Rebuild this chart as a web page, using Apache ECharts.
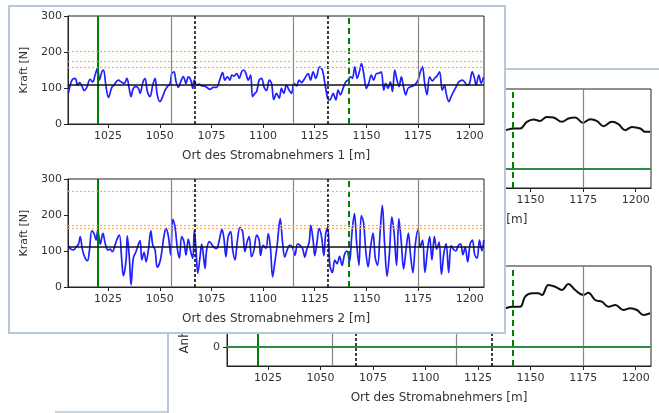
<!DOCTYPE html>
<html>
<head>
<meta charset="utf-8">
<script src="https://cdn.jsdelivr.net/npm/echarts@6/dist/echarts.min.js"></script>
<style>
  html, body { margin: 0; padding: 0; background: #fff; width: 659px; height: 413px; overflow: hidden; }
  .win { position: absolute; background: #fff; overflow: hidden; box-sizing: border-box; }
  #backWin { left: 167px; top: 68px; width: 520px; height: 380px; border-left: 2px solid #b8c7d6; border-top: 2px solid #b8c7d6; }
  #frontWin { left: 8px; top: 5px; width: 498px; height: 329px; border: 2px solid #b8c7d6; }
  #thirdWin { position: absolute; left: 55px; top: 411px; width: 112px; height: 2px; background: #c9d1da; }
  .chart { position: absolute; width: 659px; height: 413px; }
  #backChart { left: -169px; top: -70px; }
  #frontChart { left: -10px; top: -7px; }
</style>
</head>
<body>
<div id="thirdWin"></div>
<div class="win" id="backWin"><div class="chart" id="backChart"></div></div>
<div class="win" id="frontWin"><div class="chart" id="frontChart"></div></div>
<script>
// ---- track section ----
const xMinFront = 1005.6, xMaxFront = 1206.9;
const xMinBack = 1005.5, xMaxBack = 1207.3;
const xTickValues = [1025, 1050, 1075, 1100, 1125, 1150, 1175, 1200];
const forceTicks = [0, 100, 200, 300];

// markers along the track [m]
const greenSolidPos = 1020;
const grayMastPos = [1055.5, 1114.5, 1175];
const blackDashedPos = [1067, 1131.5];
const greenDashedPos = 1141.5;

// horizontal reference levels [N]
const meanForce1 = 108;
const limits1 = [203, 173, 159];
const meanForce2 = 112;
const limits2 = [267, 172, 164];

// contact force, pantograph 1
const pos1 = [1005.8,1007.5,1009.1,1010.2,1011.2,1012.3,1013.4,1014.7,1016.3,1017.6,1018.7,1019.9,1020.8,1022,1022.8,1023.9,1025.2,1026.8,1027.9,1028.9,1030,1031.3,1032.8,1034.1,1035.2,1036.1,1037.2,1038.5,1039.7,1040.5,1041.8,1042.9,1044,1045.3,1046.6,1047.7,1048.8,1050.1,1051.4,1052.6,1053.7,1055,1055.8,1056.9,1057.9,1059,1060.1,1061.4,1062.7,1063.8,1065,1066,1066.7,1067.9,1069.1,1070.3,1071.4,1072.7,1074.3,1075.9,1077.5,1079.1,1080.4,1081.5,1082.7,1084,1084.8,1085.9,1087.2,1088.5,1089.6,1090.7,1091.7,1092.8,1094,1094.9,1096,1096.9,1098.1,1099.3,1100.4,1101.7,1103,1104.1,1105.2,1106.5,1107.8,1108.9,1110,1111.3,1112.6,1113.8,1114.9,1116.2,1117.4,1118.6,1120.2,1121.8,1123,1124.2,1125.5,1127.4,1128.7,1129.9,1131.5,1132.3,1133.9,1135.2,1136.3,1137.4,1138.7,1140,1141.1,1142.3,1143.2,1144.4,1145.5,1146.8,1147.6,1148.7,1150,1151.1,1152.4,1153.5,1154.8,1156.1,1157.2,1158.4,1159.3,1160.4,1161.6,1162.6,1163.7,1164.8,1165.8,1166.9,1168,1169,1170.1,1171.7,1173.3,1175,1176.1,1177.1,1178.2,1179.3,1180.6,1181.9,1183,1184.1,1185.4,1186.7,1187.8,1188.6,1189.9,1191,1192.2,1193.5,1194.7,1196.4,1197.5,1198.6,1199.9,1201.2,1202.3,1203.1,1204.4,1205.5,1206.6];
const force1 = [85,122,127,108,115,106,93,102,124,117,136,155,122,145,150,108,74,102,108,117,122,117,113,127,99,76,99,104,99,85,115,126,90,76,108,127,81,62,76,94,104,113,140,145,117,102,117,132,113,131,122,99,122,108,111,106,106,102,96,102,102,124,143,122,131,122,136,133,140,127,145,150,140,122,136,76,85,90,122,127,104,93,122,113,68,85,72,99,85,108,94,85,113,106,122,115,127,140,122,145,127,159,150,113,68,67,85,67,94,81,99,117,122,131,127,159,127,150,168,140,99,113,136,122,140,141,145,94,113,99,117,90,150,122,104,131,102,81,99,104,108,122,145,159,113,81,131,120,127,133,145,94,108,85,62,76,90,104,117,122,117,108,113,145,127,108,136,113,130];

// contact force, pantograph 2
const pos2 = [1005.8,1007,1008.3,1009.6,1010.7,1011.5,1012.6,1013.9,1015,1016,1017.1,1018.3,1019.2,1020,1021.2,1022.5,1023.6,1024.9,1026,1027.1,1028.4,1029.5,1030.5,1031.6,1032.4,1033.7,1034.3,1035.3,1036.1,1037.2,1038.5,1039.4,1040.5,1041.3,1042.4,1043.4,1044.5,1045.7,1046.6,1047.7,1048.8,1050.1,1051.1,1052.1,1053,1054.2,1055.3,1056.3,1057.4,1058.5,1059.5,1060.6,1061.7,1062.7,1063.8,1065,1066,1066.7,1067.5,1068.4,1069.5,1070.3,1071.1,1071.9,1072.7,1074,1075.1,1076.2,1077.5,1078.8,1080.1,1081.1,1082,1083.1,1084.3,1085.3,1086.4,1087.5,1088.8,1090.1,1091.2,1092.3,1093.3,1094.4,1095.6,1096.9,1098.1,1098.8,1100,1101.4,1102.5,1103.6,1104.6,1105.7,1106.8,1108.3,1109.4,1110.5,1111.6,1112.9,1114.2,1115.4,1116.7,1117.8,1119.1,1120.2,1121,1122.3,1123.1,1124.2,1125,1126.1,1127.1,1128.3,1129.4,1130.3,1131.3,1132.3,1133.5,1134.7,1135.8,1137,1138.2,1139.4,1140.6,1141.8,1143,1144.2,1145.3,1146.4,1147.5,1148.6,1149.7,1150.8,1152,1153.2,1154.3,1155.4,1156.6,1157.7,1158.8,1160,1161.1,1162.3,1163.4,1164.6,1165.7,1166.8,1168,1169.1,1170.3,1171.4,1172.5,1173.7,1175,1176,1177.2,1178.3,1179.5,1180.6,1181.7,1182.9,1184,1185.2,1186.3,1187.5,1188.6,1189.8,1191,1192.1,1193.3,1194.4,1195.6,1196.7,1197.8,1199,1200.2,1201.3,1202.4,1203.6,1204.7,1205.9,1206.8];
const force2 = [114,105,103,112,119,140,103,80,73,103,156,147,130,158,119,149,121,103,105,98,117,135,144,75,31,75,142,80,6,80,98,114,129,75,96,70,103,156,117,103,55,70,103,144,163,140,89,188,167,107,80,140,126,89,133,98,80,158,107,38,84,119,89,52,103,126,119,110,107,130,160,133,84,140,154,103,75,126,165,154,98,126,140,84,103,144,130,88,116,107,148,107,28,69,116,190,125,83,102,116,111,88,120,116,107,83,102,125,171,130,87,125,162,139,87,148,166,60,40,75,65,85,60,90,100,70,150,204,120,60,198,180,100,56,110,150,80,60,150,227,120,30,90,194,150,60,190,130,50,100,150,85,40,120,160,110,130,40,100,140,75,140,105,125,35,95,120,40,115,105,100,115,120,90,110,70,120,130,90,80,130,100,130];

// uplift, rear window (visible part)
const posUpliftA = [1135,1137.9,1141.8,1145,1148.2,1151.4,1154.5,1157.7,1160.9,1164.9,1168,1171.2,1174.9,1178.4,1181.5,1184.7,1188.7,1191.8,1195,1198.2,1202.2,1204.5,1206.9];
const upliftA = [39,39.4,41.1,41.1,47.8,50.2,48.8,52.8,52.2,47.8,51.2,52.2,46.8,50.5,48.8,43.4,47.8,45.5,39.4,42.7,41.1,37.7,37.7];
const posUpliftB = [1135,1137.9,1141.1,1145,1147.4,1150.6,1153.7,1155.4,1158.5,1161.7,1164.9,1168,1171.2,1175.2,1177.5,1180.7,1183.9,1187.1,1190.3,1194.2,1197.4,1200.6,1203.7,1206.9];
const upliftB = [38,38.7,40.3,40.3,50.3,53.7,53.7,52,62,60.3,57,63,57,52,54.3,47,45.3,40.3,42,37,38.7,37,32,33.7];
const upliftTicks = [0, 25, 50, 75];

const FONT = 'DejaVu Sans';
const TXT = '#333';

function pairs(xs, ys) { return xs.map((x, i) => [x, ys[i]]); }
const plain = v => String(v);

function verticalMarks() {
  const out = [];
  out.push({ xAxis: greenSolidPos, lineStyle: { color: '#008000', width: 2, type: 'solid' } });
  grayMastPos.forEach(v => out.push({ xAxis: v, lineStyle: { color: '#858585', width: 1.2, type: 'solid' } }));
  blackDashedPos.forEach(v => out.push({ xAxis: v, lineStyle: { color: '#111', width: 1.6, type: [3, 2] } }));
  out.push({ xAxis: greenDashedPos, lineStyle: { color: '#008000', width: 2, type: [6, 4] } });
  return out;
}

function xAxisCfg(grid, min, max, name) {
  return {
    type: 'value', gridIndex: grid, min: min, max: max,
    axisLine: { show: true, onZero: false, lineStyle: { color: '#222', width: 1 } },
    axisTick: { show: true, inside: false, length: 4, customValues: xTickValues, lineStyle: { color: '#222' } },
    axisLabel: { customValues: xTickValues, formatter: plain, fontFamily: FONT, fontSize: 11, color: TXT, margin: 7 },
    splitLine: { show: false },
    name: name, nameLocation: 'middle', nameGap: 26,
    nameTextStyle: { fontFamily: FONT, fontSize: 12, color: TXT }
  };
}

// ---------- front window: contact forces ----------
function forceY(grid) {
  return {
    type: 'value', gridIndex: grid, min: 0, max: 300,
    axisLine: { show: true, lineStyle: { color: '#222', width: 1 } },
    axisTick: { show: true, inside: false, length: 4, customValues: forceTicks, lineStyle: { color: '#222' } },
    axisLabel: { customValues: forceTicks, formatter: plain, fontFamily: FONT, fontSize: 11, color: TXT, margin: 6 },
    splitLine: { show: false },
    name: 'Kraft [N]', nameLocation: 'middle', nameRotate: 90, nameGap: 36,
    nameTextStyle: { fontFamily: FONT, fontSize: 11, color: TXT }
  };
}

function forceSeries(idx, xs, ys, mean, limits) {
  const marks = verticalMarks();
  limits.forEach(v => marks.push({ yAxis: v, lineStyle: { color: '#f5b060', width: 1.2, type: [2, 2] } }));
  marks.push({ yAxis: mean, lineStyle: { color: '#111', width: 1.5, type: 'solid' } });
  return {
    type: 'line', xAxisIndex: idx, yAxisIndex: idx,
    data: pairs(xs, ys), showSymbol: false, smooth: 0.35,
    lineStyle: { color: '#1f1fff', width: 1.7 },
    markLine: { silent: true, symbol: 'none', label: { show: false }, animation: false, data: marks },
    animation: false
  };
}

const front = echarts.init(document.getElementById('frontChart'), null, { renderer: 'canvas' });
front.setOption({
  backgroundColor: 'transparent',
  animation: false,
  grid: [
    { left: 68, top: 16, width: 416, height: 108, show: true, borderColor: '#222', borderWidth: 1 },
    { left: 68, top: 179, width: 416, height: 108, show: true, borderColor: '#222', borderWidth: 1 }
  ],
  xAxis: [
    xAxisCfg(0, xMinFront, xMaxFront, 'Ort des Stromabnehmers 1 [m]'),
    xAxisCfg(1, xMinFront, xMaxFront, 'Ort des Stromabnehmers 2 [m]')
  ],
  yAxis: [forceY(0), forceY(1)],
  series: [
    forceSeries(0, pos1, force1, meanForce1, limits1),
    forceSeries(1, pos2, force2, meanForce2, limits2)
  ]
});

// ---------- rear window: uplift ----------
function upliftY(grid) {
  return {
    type: 'value', gridIndex: grid, min: -19, max: 81,
    axisLine: { show: true, onZero: false, lineStyle: { color: '#222', width: 1 } },
    axisTick: { show: true, inside: false, length: 4, customValues: upliftTicks, lineStyle: { color: '#222' } },
    axisLabel: { customValues: upliftTicks, formatter: plain, fontFamily: FONT, fontSize: 11, color: TXT, margin: 7 },
    splitLine: { show: false },
    name: 'Anhub [mm]', nameLocation: 'middle', nameRotate: 90, nameGap: 36,
    nameTextStyle: { fontFamily: FONT, fontSize: 12, color: TXT }
  };
}

function upliftSeries(idx, xs, ys) {
  const marks = verticalMarks();
  marks.push({ yAxis: 0, lineStyle: { color: '#2a8c45', width: 2, type: 'solid' } });
  return {
    type: 'line', xAxisIndex: idx, yAxisIndex: idx,
    data: pairs(xs, ys), showSymbol: false, smooth: 0.4,
    lineStyle: { color: '#111', width: 2 },
    markLine: { silent: true, symbol: 'none', label: { show: false }, animation: false, data: marks },
    animation: false
  };
}

const back = echarts.init(document.getElementById('backChart'), null, { renderer: 'canvas' });
back.setOption({
  backgroundColor: 'transparent',
  animation: false,
  grid: [
    { left: 227, top: 89, width: 424, height: 99, show: true, borderColor: '#222', borderWidth: 1 },
    { left: 227, top: 266, width: 424, height: 100, show: true, borderColor: '#222', borderWidth: 1 }
  ],
  xAxis: [
    xAxisCfg(0, xMinBack, xMaxBack, 'Ort des Stromabnehmers [m]'),
    xAxisCfg(1, xMinBack, xMaxBack, 'Ort des Stromabnehmers [m]')
  ],
  yAxis: [upliftY(0), upliftY(1)],
  series: [
    upliftSeries(0, posUpliftA, upliftA),
    upliftSeries(1, posUpliftB, upliftB)
  ]
});
</script>
</body>
</html>
